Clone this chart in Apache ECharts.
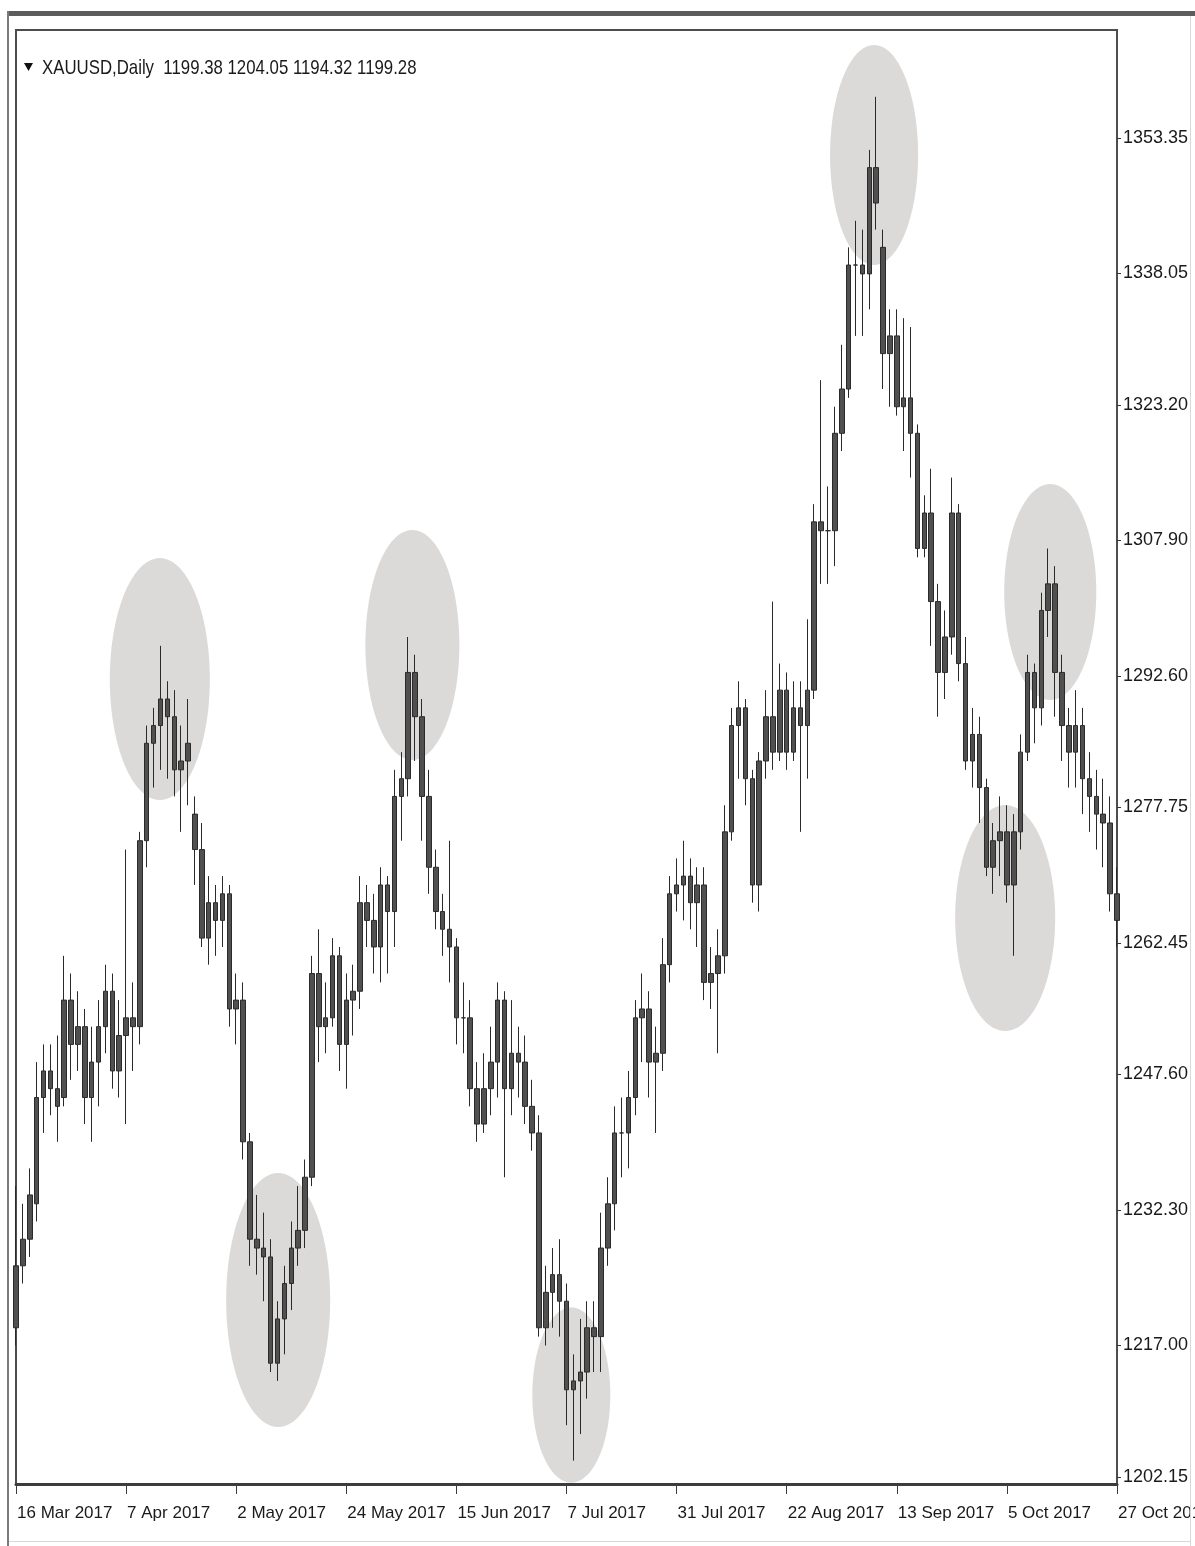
<!DOCTYPE html>
<html>
<head>
<meta charset="utf-8">
<script src="https://cdn.jsdelivr.net/npm/echarts@6/dist/echarts.min.js"></script>
<style>
html,body{margin:0;padding:0;background:#fff;}
#chart{width:1195px;height:1546px;}
</style>
</head>
<body>
<div id="chart"></div>
<script>
const dates = ["16 Mar 2017","17 Mar 2017","20 Mar 2017","21 Mar 2017","22 Mar 2017","23 Mar 2017","24 Mar 2017","27 Mar 2017","28 Mar 2017","29 Mar 2017","30 Mar 2017","31 Mar 2017",
"3 Apr 2017","4 Apr 2017","5 Apr 2017","6 Apr 2017","7 Apr 2017","10 Apr 2017","11 Apr 2017","12 Apr 2017","13 Apr 2017","17 Apr 2017","18 Apr 2017","19 Apr 2017","20 Apr 2017","21 Apr 2017","24 Apr 2017","25 Apr 2017","26 Apr 2017","27 Apr 2017","28 Apr 2017",
"1 May 2017","2 May 2017","3 May 2017","4 May 2017","5 May 2017","8 May 2017","9 May 2017","10 May 2017","11 May 2017","12 May 2017","15 May 2017","16 May 2017","17 May 2017","18 May 2017","19 May 2017","22 May 2017","23 May 2017","24 May 2017","25 May 2017","26 May 2017","29 May 2017","30 May 2017","31 May 2017",
"1 Jun 2017","2 Jun 2017","5 Jun 2017","6 Jun 2017","7 Jun 2017","8 Jun 2017","9 Jun 2017","12 Jun 2017","13 Jun 2017","14 Jun 2017","15 Jun 2017","16 Jun 2017","19 Jun 2017","20 Jun 2017","21 Jun 2017","22 Jun 2017","23 Jun 2017","26 Jun 2017","27 Jun 2017","28 Jun 2017","29 Jun 2017","30 Jun 2017",
"3 Jul 2017","4 Jul 2017","5 Jul 2017","6 Jul 2017","7 Jul 2017","10 Jul 2017","11 Jul 2017","12 Jul 2017","13 Jul 2017","14 Jul 2017","17 Jul 2017","18 Jul 2017","19 Jul 2017","20 Jul 2017","21 Jul 2017","24 Jul 2017","25 Jul 2017","26 Jul 2017","27 Jul 2017","28 Jul 2017","31 Jul 2017",
"1 Aug 2017","2 Aug 2017","3 Aug 2017","4 Aug 2017","7 Aug 2017","8 Aug 2017","9 Aug 2017","10 Aug 2017","11 Aug 2017","14 Aug 2017","15 Aug 2017","16 Aug 2017","17 Aug 2017","18 Aug 2017","21 Aug 2017","22 Aug 2017","23 Aug 2017","24 Aug 2017","25 Aug 2017","28 Aug 2017","29 Aug 2017","30 Aug 2017","31 Aug 2017",
"1 Sep 2017","4 Sep 2017","5 Sep 2017","6 Sep 2017","7 Sep 2017","8 Sep 2017","11 Sep 2017","12 Sep 2017","13 Sep 2017","14 Sep 2017","15 Sep 2017","18 Sep 2017","19 Sep 2017","20 Sep 2017","21 Sep 2017","22 Sep 2017","25 Sep 2017","26 Sep 2017","27 Sep 2017","28 Sep 2017","29 Sep 2017",
"2 Oct 2017","3 Oct 2017","4 Oct 2017","5 Oct 2017","6 Oct 2017","9 Oct 2017","10 Oct 2017","11 Oct 2017","12 Oct 2017","13 Oct 2017","16 Oct 2017","17 Oct 2017","18 Oct 2017","19 Oct 2017","20 Oct 2017","23 Oct 2017","24 Oct 2017","25 Oct 2017","26 Oct 2017","27 Oct 2017"];

const openP = [1219,1226,1229,1233,1245,1248,1246,1245,1256,1251,1253,1245,1249,1253,1257,1248,1252,1254,1253,1274,1285,1287,1290,1288,1282,1283,1277,1273,1263,1267,1265,1268,1255,1256,1240,1229,1228,1227,1215,1220,1224,1228,1230,1236,1259,1253,1254,1261,1251,1256,1257,1267,1265,1262,1269,1266,1279,1281,1293,1288,1279,1271,1266,1264,1262,1254,1254,1246,1242,1246,1249,1256,1246,1250,1249,1244,1241,1219,1223,1225,1222,1212,1213,1214,1219,1218,1228,1233,1241,1241,1245,1254,1255,1249,1250,1260,1268,1269,1270,1267,1269,1258,1259,1261,1275,1287,1289,1281,1269,1283,1288,1284,1291,1284,1289,1287,1291,1310,1309,1309,1320,1325,1339,1339,1338,1350,1341,1329,1331,1323,1324,1320,1307,1311,1301,1293,1297,1311,1294,1283,1286,1280,1271,1274,1275,1269,1275,1284,1293,1289,1300,1303,1293,1287,1284,1287,1281,1279,1277,1276,1268];
const closeP = [1226,1229,1234,1245,1248,1246,1244,1256,1251,1253,1245,1249,1253,1257,1248,1252,1254,1253,1274,1285,1287,1290,1288,1282,1283,1285,1273,1263,1267,1265,1268,1255,1256,1240,1229,1228,1227,1215,1220,1224,1228,1230,1236,1259,1253,1254,1261,1251,1256,1257,1267,1265,1262,1269,1266,1279,1281,1293,1288,1279,1271,1266,1264,1262,1254,1254,1246,1242,1246,1249,1256,1246,1250,1249,1244,1241,1219,1223,1225,1222,1212,1213,1214,1219,1218,1228,1233,1241,1241,1245,1254,1255,1249,1250,1260,1268,1269,1270,1267,1269,1258,1259,1261,1275,1287,1289,1281,1269,1283,1288,1284,1291,1284,1289,1287,1291,1310,1309,1309,1320,1325,1339,1339,1338,1350,1346,1329,1331,1323,1324,1320,1307,1311,1301,1293,1297,1311,1294,1283,1286,1280,1271,1274,1275,1269,1275,1284,1293,1289,1300,1303,1293,1287,1284,1287,1281,1279,1277,1276,1268,1265];
const lowP = [1217,1224,1227,1231,1241,1243,1240,1244,1247,1248,1242,1240,1244,1250,1246,1245,1242,1248,1251,1271,1280,1282,1281,1279,1275,1278,1269,1262,1260,1261,1262,1253,1251,1238,1226,1225,1222,1214,1213,1216,1221,1226,1228,1235,1249,1250,1253,1248,1246,1252,1255,1262,1259,1258,1259,1262,1274,1279,1283,1274,1268,1264,1261,1258,1251,1250,1244,1240,1241,1243,1245,1236,1243,1245,1242,1239,1218,1217,1219,1218,1208,1204,1207,1211,1214,1214,1226,1230,1236,1237,1243,1249,1245,1241,1248,1258,1266,1265,1264,1262,1256,1255,1250,1259,1274,1281,1278,1267,1266,1281,1282,1283,1282,1283,1275,1281,1290,1303,1303,1305,1318,1324,1331,1331,1334,1343,1325,1323,1322,1318,1315,1306,1306,1296,1288,1290,1295,1292,1282,1280,1276,1270,1268,1270,1267,1261,1273,1283,1285,1287,1297,1288,1283,1280,1280,1277,1275,1273,1271,1266,1262];
const highP = [1235,1233,1237,1249,1251,1251,1252,1261,1259,1257,1255,1253,1256,1260,1259,1256,1273,1258,1275,1287,1289,1296,1292,1291,1287,1290,1279,1276,1270,1269,1270,1269,1259,1258,1241,1234,1232,1229,1222,1226,1231,1235,1238,1261,1264,1258,1263,1262,1259,1260,1270,1269,1268,1271,1270,1282,1284,1297,1295,1290,1282,1273,1268,1274,1263,1258,1256,1249,1250,1253,1258,1257,1256,1253,1252,1247,1243,1226,1228,1229,1224,1216,1220,1222,1222,1232,1236,1244,1245,1248,1256,1259,1257,1253,1263,1270,1272,1274,1272,1271,1271,1262,1264,1278,1289,1292,1290,1282,1284,1291,1301,1294,1293,1292,1292,1299,1312,1326,1314,1323,1330,1341,1344,1343,1352,1358,1343,1334,1334,1333,1332,1321,1313,1316,1303,1300,1315,1312,1297,1289,1288,1281,1276,1279,1278,1277,1286,1295,1294,1302,1307,1305,1295,1289,1291,1289,1284,1282,1281,1279,1271];

const yTicks = [1202.15,1217.00,1232.30,1247.60,1262.45,1277.75,1292.60,1307.90,1323.20,1338.05,1353.35];

// highlight ellipses: centre (bar index, price), half-width (bars), half-height (price)
const ringBar = [20.9, 38.1, 57.6, 80.7, 124.7, 150.3, 143.75];
const ringPrice = [1292.25, 1222.14, 1296.1, 1211.4, 1351.43, 1302.08, 1265.27];
const ringHalfBars = [7.27, 7.56, 6.83, 5.67, 6.4, 6.69, 7.27];
const ringHalfPrice = [13.66, 14.34, 12.99, 9.9, 12.42, 12.2, 12.76];

const titleText = 'XAUUSD,Daily  1199.38 1204.05 1194.32 1199.28';

const FONT = '"Liberation Sans", Arial, sans-serif';
const chart = echarts.init(document.getElementById('chart'), null, {renderer: 'canvas'});

const ohlc = dates.map((d, i) => [openP[i], closeP[i], lowP[i], highP[i]]);
const rings = ringBar.map((b, k) => [Math.round(b), ringPrice[k]]);

const option = {
  backgroundColor: '#ffffff',
  animation: false,
  grid: {left: 16, right: 78, top: 30, bottom: 62, show: true, containLabel: false, outerBoundsMode: 'none', borderColor: '#4d4d4d', borderWidth: 2, backgroundColor: 'transparent'},
  xAxis: {
    type: 'category',
    data: dates,
    boundaryGap: false,
    axisLine: {show: true, lineStyle: {color: '#3c3c3c', width: 3}},
    axisTick: {show: true, interval: 15, length: 10, lineStyle: {color: '#3c3c3c', width: 1}},
    axisLabel: {show: true, interval: 15, align: 'left', margin: 21, color: '#1a1a1a', fontSize: 17, fontFamily: FONT, hideOverlap: false, showMinLabel: true, showMaxLabel: true, padding: [0, 0, 0, 1]},
    splitLine: {show: false}
  },
  yAxis: {
    type: 'value',
    position: 'right',
    min: 1201.36,
    max: 1365.54,
    axisLine: {show: true, lineStyle: {color: '#4d4d4d', width: 2}},
    axisTick: {show: true, customValues: yTicks, length: 4, lineStyle: {color: '#333'}},
    axisLabel: {show: true, customValues: yTicks, formatter: v => Number(v).toFixed(2), margin: 6, color: '#1a1a1a', fontSize: 18, fontFamily: FONT},
    splitLine: {show: false}
  },
  graphic: [
    {type: 'rect', shape: {x: 8, y: 11, width: 1187, height: 5}, style: {fill: '#5c5c5c'}, z: 100},
    {type: 'rect', shape: {x: 7, y: 11, width: 2, height: 1535}, style: {fill: '#7a7a7a'}, z: 100},
    {type: 'rect', shape: {x: 1190, y: 16, width: 1, height: 1530}, style: {fill: '#d8d8d8'}, z: 100},
    {type: 'rect', shape: {x: 9, y: 1541, width: 1181, height: 1}, style: {fill: '#d8d8d8'}, z: 100},
    {type: 'polygon', shape: {points: [[24, 63], [33, 63], [28.5, 71]]}, style: {fill: '#111'}, z: 100},
    {type: 'text', x: 42, y: 68, scaleX: 0.8, style: {text: titleText, font: '21px ' + FONT, fill: '#1a1a1a', verticalAlign: 'middle'}, z: 100}
  ],
  series: [
    {
      type: 'custom',
      z: 1,
      silent: true,
      encode: {x: 0, y: 1},
      data: rings,
      renderItem: function (params, api) {
        const k = params.dataIndex;
        const a = api.coord([0, ringPrice[k]]);
        const b = api.coord([1, ringPrice[k]]);
        const ppb = b[0] - a[0];
        const cx = a[0] + ringBar[k] * ppb;
        const cy = a[1];
        const ry = Math.abs(api.coord([0, ringPrice[k] + ringHalfPrice[k]])[1] - cy);
        const rx = ringHalfBars[k] * ppb;
        const cs = params.coordSys;
        const pts = [];
        for (let t = 0; t < 96; t++) {
          const ang = t / 96 * Math.PI * 2;
          const px = cx + rx * Math.cos(ang);
          let py = cy + ry * Math.sin(ang);
          py = Math.min(Math.max(py, cs.y + 1), cs.y + cs.height - 1);
          pts.push([px, py]);
        }
        return {type: 'polygon', shape: {points: pts}, style: {fill: '#dcdad8'}};
      }
    },
    {
      type: 'candlestick',
      z: 3,
      data: ohlc,
      barWidth: 5,
      itemStyle: {color: '#505050', color0: '#505050', borderColor: '#2a2a2a', borderColor0: '#2a2a2a', borderWidth: 1}
    }
  ]
};
chart.setOption(option);
</script>
</body>
</html>
